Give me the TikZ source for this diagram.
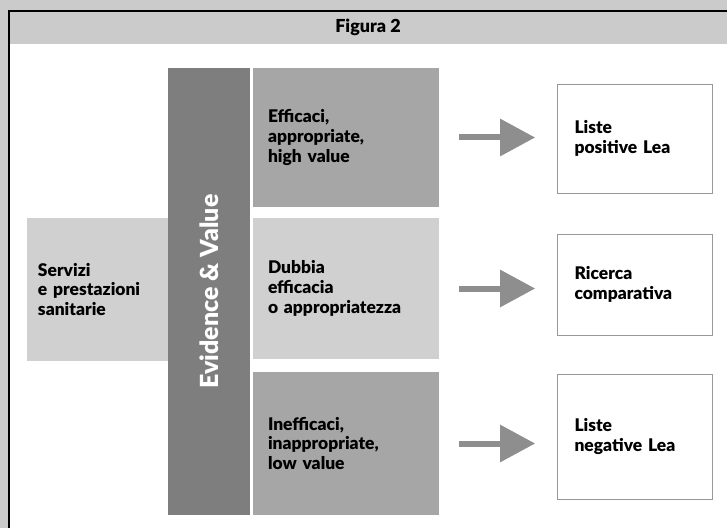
\documentclass[tikz,border=0pt]{standalone}
\usepackage{fontspec}
\setmainfont{Lato}[BoldFont={Lato Black}]
\usepackage{xcolor}
\usetikzlibrary{arrows.meta,positioning}
\definecolor{bggray}{HTML}{CBCBCB}
\definecolor{bargray}{HTML}{7E7E7E}
\definecolor{darkcell}{HTML}{A6A6A6}
\definecolor{lightcell}{HTML}{D0D0D0}
\definecolor{arrgray}{HTML}{8E8E8E}

\begin{document}
\begin{tikzpicture}[x=1bp,y=-1bp,
  font=\bfseries\fontsize{17.5}{20}\selectfont,
  cell/.style={minimum height=#1, inner xsep=15bp, text width=156bp, align=left},
  outbox/.style={draw=black!40, line width=0.7bp, fill=white, minimum height=#1,
    inner xsep=17bp, text width=121bp, align=left},
  flow/.style={-{Triangle[length=35bp,width=36bp]}, line width=6bp, draw=arrgray,
    shorten <=20bp, shorten >=22bp}]
  \useasboundingbox (0,0) rectangle (727,528);
  \fill[bggray] (0,0) rectangle (727,528);
  \fill[white] (9,44) rectangle (727,528);
  \draw[line width=1.5bp] (727,11) -| (9,528);
  \node[font=\bfseries\fontsize{18}{20}\selectfont] (title) at (368,27.5) {Figura 2};

  \node[fill=bargray, rotate=90, minimum width=447bp, minimum height=82bp,
    inner sep=0pt, text=white, font=\bfseries\fontsize{25}{28}\selectfont] (ev) at (209,291.5) {Evidence \& Value};
  \node[fill=lightcell, minimum height=143bp, inner xsep=11bp, text width=119bp,
    align=left] (serv) at (97.5,289.5) {Servizi\\e~prestazioni\\sanitarie};

  \node[fill=darkcell, cell=139bp]  (eff)   at (346,137.5) {Efficaci,\\appropriate,\\high~value};
  \node[fill=lightcell, cell=141bp] (dub)   at (346,288.5) {Dubbia\\efficacia\\o~appropriatezza};
  \node[fill=darkcell, cell=143bp]  (ineff) at (346,443.5) {Inefficaci,\\inappropriate,\\low~value};

  \node[outbox=109bp] (lp) at (635,138.5) {Liste\\positive~Lea};
  \node[outbox=101bp] (rc) at (635,284.5) {Ricerca\\comparativa};
  \node[outbox=125bp] (ln) at (635,436.5) {Liste\\negative~Lea};

  \draw[flow] (eff.east) -- (eff.east -| lp.west);
  \draw[flow] (dub.east) -- (dub.east -| rc.west);
  \draw[flow] (ineff.east) -- (ineff.east -| ln.west);
\end{tikzpicture}
\end{document}
